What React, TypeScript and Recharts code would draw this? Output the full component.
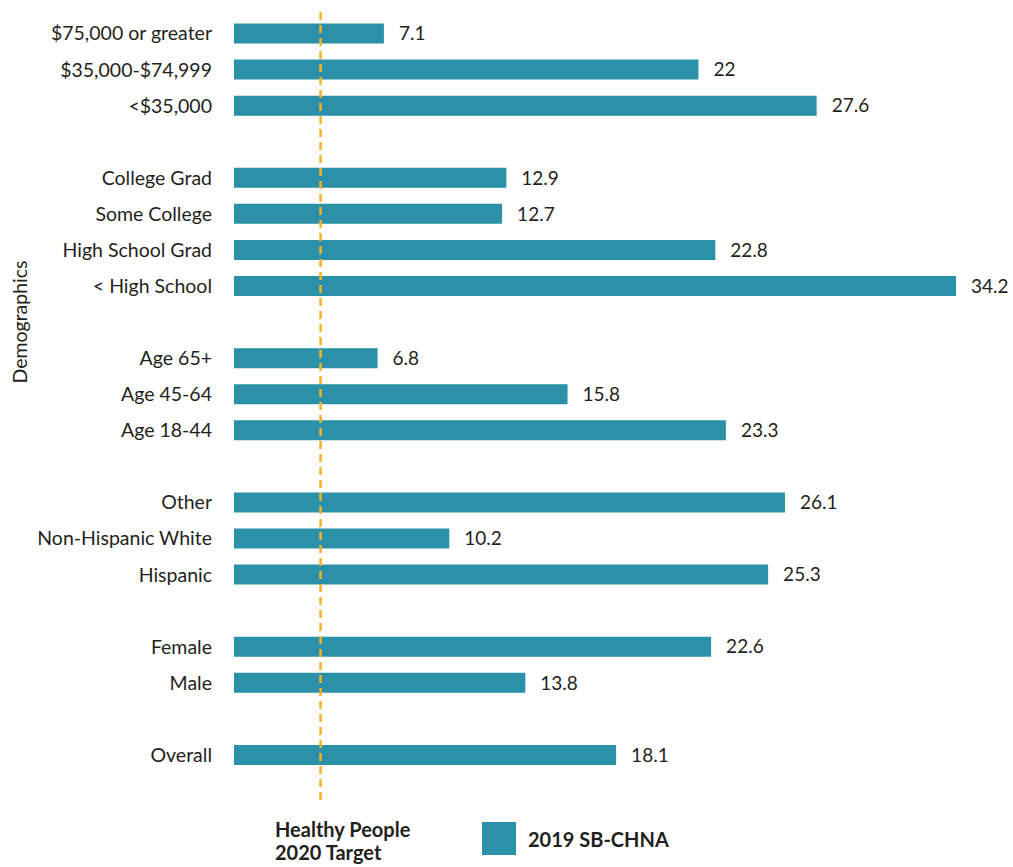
import { BarChart, Bar, XAxis, YAxis, ReferenceLine, LabelList, Label } from 'recharts';

const TEAL = '#2B91A8';
const ORANGE = '#F7B22A';
const TEXT = '#231F20';
const FONT = 'Lato, "Open Sans", sans-serif';

// top to bottom; '' marks the blank row between groups
const categories = [
  '$75,000 or greater', '$35,000-$74,999', '<$35,000', '',
  'College Grad', 'Some College', 'High School Grad', '< High School', '',
  'Age 65+', 'Age 45-64', 'Age 18-44', '',
  'Other', 'Non-Hispanic White', 'Hispanic', '',
  'Female', 'Male', '',
  'Overall',
];
const values = [
  7.1, 22, 27.6, null,
  12.9, 12.7, 22.8, 34.2, null,
  6.8, 15.8, 23.3, null,
  26.1, 10.2, 25.3, null,
  22.6, 13.8, null,
  18.1,
];
const target = 4.1;

const data = categories.map((name, i) => ({ name, value: values[i] }));

function LegendBlock() {
  return (
    <div style={{ position: 'absolute', left: 0, top: 0, width: 1013, height: 867, pointerEvents: 'none', fontFamily: FONT, color: TEXT }}>
      <div style={{ position: 'absolute', left: 275, top: 818, fontSize: 20, fontWeight: 700, lineHeight: '23px' }}>
        Healthy People<br />2020 Target
      </div>
      <div style={{ position: 'absolute', left: 482, top: 822, width: 34, height: 33, background: TEAL }} />
      <div style={{ position: 'absolute', left: 528, top: 825, fontSize: 20, fontWeight: 700, lineHeight: '28px' }}>
        2019 SB-CHNA
      </div>
    </div>
  );
}

const AxisTitle = () => (
  <text
    x={0}
    y={0}
    transform="translate(27, 322) rotate(-90)"
    textAnchor="middle"
    fill={TEXT}
    fontSize={19.5}
    fontFamily={FONT}
  >
    Demographics
  </text>
);

export default function App() {
  return (
    <div style={{ position: 'absolute', left: 0, top: 0, width: 1013, height: 867, background: '#fff' }}>
      <BarChart
        width={1013}
        height={867}
        data={data}
        layout="vertical"
        margin={{ top: 10, right: 19, bottom: 67, left: 0 }}
      >
        <XAxis type="number" domain={[0, 36]} hide />
        <YAxis
          type="category"
          dataKey="name"
          width={234}
          axisLine={false}
          tickLine={false}
          tickSize={0}
          tickMargin={22}
          interval={0}
          padding={{ top: 5.5, bottom: 27 }}
          tick={{ fill: TEXT, fontSize: 19.5, fontFamily: FONT }}
        >
          <Label content={AxisTitle} />
        </YAxis>
        <Bar dataKey="value" fill={TEAL} barSize={20} isAnimationActive={false}>
          <LabelList
            dataKey="value"
            position="right"
            offset={15}
            style={{ fill: TEXT, fontSize: 19, fontFamily: FONT }}
          />
        </Bar>
        <ReferenceLine x={target} stroke={ORANGE} strokeWidth={2.5} strokeDasharray="8 5" ifOverflow="extendDomain" />
      </BarChart>
      <LegendBlock />
    </div>
  );
}
